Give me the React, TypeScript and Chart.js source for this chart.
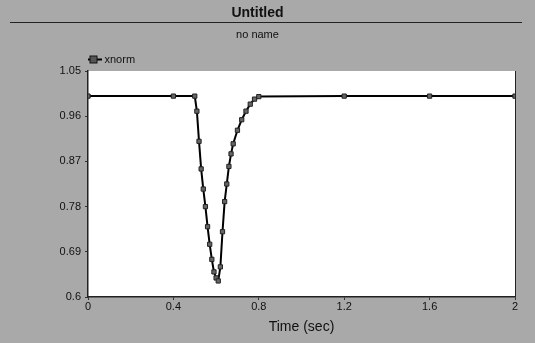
import React, { useEffect, useRef } from "react";
import { Chart, registerables } from "chart.js";

Chart.register(...registerables);

const titleText = "Untitled";
const subtitleText = "no name";
const seriesLabel = "xnorm";
const xAxisTitle = "Time (sec)";

const times = [0, 0.4, 0.5, 0.51, 0.52, 0.53, 0.54, 0.55, 0.56, 0.57, 0.58, 0.59, 0.6, 0.61, 0.62, 0.63, 0.64, 0.65, 0.66, 0.67, 0.68, 0.7, 0.72, 0.74, 0.76, 0.78, 0.8, 1.2, 1.6, 2.0];
const xnorm = [1.0, 1.0, 1.0, 0.97, 0.91, 0.855, 0.815, 0.78, 0.74, 0.705, 0.675, 0.65, 0.638, 0.632, 0.66, 0.73, 0.79, 0.825, 0.86, 0.885, 0.905, 0.932, 0.953, 0.97, 0.984, 0.994, 0.999, 1.0, 1.0, 1.0];

const xTicks = [0, 0.4, 0.8, 1.2, 1.6, 2];
const yTicks = [0.6, 0.69, 0.78, 0.87, 0.96, 1.05];

const BG = "#a9a9a9";
const FONT = "'Liberation Sans', Arial, sans-serif";

export default function App() {
  const ref = useRef<HTMLCanvasElement | null>(null);

  useEffect(() => {
    document.body.style.margin = "0";
    const canvas = ref.current;
    if (!canvas) return;

    const legendIcon = document.createElement("canvas");
    legendIcon.width = 16;
    legendIcon.height = 10;
    const ictx = legendIcon.getContext("2d")!;
    ictx.strokeStyle = "#000";
    ictx.lineWidth = 2;
    ictx.beginPath();
    ictx.moveTo(0, 5);
    ictx.lineTo(16, 5);
    ictx.stroke();
    ictx.fillStyle = "#555";
    ictx.fillRect(4, 1, 8, 8);
    ictx.strokeStyle = "#111";
    ictx.lineWidth = 1;
    ictx.strokeRect(4.5, 1.5, 7, 7);

    let shifted = false;
    const framePlugin = {
      id: "frame",
      beforeDraw(chart: any) {
        const { ctx, chartArea, width, height } = chart;
        ctx.save();
        ctx.fillStyle = BG;
        ctx.fillRect(0, 0, width, height);
        ctx.fillStyle = "#ffffff";
        ctx.fillRect(chartArea.left, chartArea.top, chartArea.right - chartArea.left, chartArea.bottom - chartArea.top);
        ctx.strokeStyle = "#222";
        ctx.lineWidth = 1;
        ctx.beginPath();
        ctx.moveTo(10, 22.5);
        ctx.lineTo(522, 22.5);
        ctx.stroke();
        ctx.beginPath();
        ctx.moveTo(chartArea.right + 0.5, chartArea.top);
        ctx.lineTo(chartArea.right + 0.5, chartArea.bottom);
        ctx.stroke();
        ctx.restore();
        if (chart.legend && !shifted) {
          shifted = true;
          const w = chart.legend.right - chart.legend.left;
          chart.legend.left = chartArea.left;
          chart.legend.right = chart.legend.left + w;
          chart.legend.top += 4;
          chart.legend.bottom += 4;
        }
      },
    };

    const chart = new Chart(canvas, {
      type: "line",
      data: {
        datasets: [
          {
            label: seriesLabel,
            data: times.map((t, i) => ({ x: t, y: xnorm[i] })),
            borderColor: "#000",
            borderWidth: 2,
            pointStyle: "rect",
            pointRadius: 3,
            pointBackgroundColor: "#666",
            pointBorderColor: "#222",
            pointBorderWidth: 1,
            tension: 0,
            fill: false,
          },
        ],
      },
      options: {
        animation: false,
        responsive: false,
        maintainAspectRatio: false,
        layout: { padding: { left: 0, right: 20, top: 0, bottom: 0 } },
        plugins: {
          title: {
            display: true,
            text: titleText,
            color: "#111",
            font: { family: FONT, size: 14, weight: "bold" },
            padding: { top: 5, bottom: 4 },
          },
          subtitle: {
            display: true,
            text: subtitleText,
            color: "#111",
            font: { family: FONT, size: 11 },
            padding: { top: 3, bottom: 8 },
          },
          legend: {
            display: true,
            position: "top",
            align: "start",
            labels: {
              usePointStyle: true,
              pointStyle: legendIcon as any,
              padding: 0,
              color: "#111",
              font: { family: FONT, size: 11 },
            },
          },
          tooltip: { enabled: false },
        },
        scales: {
          x: {
            type: "linear",
            min: 0,
            max: 2,
            afterBuildTicks: (axis: any) => {
              axis.ticks = xTicks.map((v) => ({ value: v }));
            },
            afterFit: (axis: any) => {
              axis.height = 46;
            },
            ticks: {
              color: "#111",
              font: { family: FONT, size: 11 },
              padding: 0,
              maxRotation: 0,
              callback: (v: any) => String(Math.round(Number(v) * 10) / 10),
            },
            grid: { display: true, drawOnChartArea: false, tickLength: 3, color: "#333" },
            border: { display: true, color: "#222", width: 1.5 },
            title: {
              display: true,
              text: xAxisTitle,
              color: "#111",
              font: { family: FONT, size: 14 },
              padding: { top: 2, bottom: 7 },
            },
          },
          y: {
            type: "linear",
            min: 0.6,
            max: 1.05,
            afterBuildTicks: (axis: any) => {
              axis.ticks = yTicks.map((v) => ({ value: v }));
            },
            afterFit: (axis: any) => {
              axis.width = 88;
            },
            ticks: {
              color: "#111",
              font: { family: FONT, size: 11 },
              padding: 4,
              callback: (v: any) => String(Math.round(Number(v) * 100) / 100),
            },
            grid: { display: true, drawOnChartArea: false, tickLength: 3, color: "#333" },
            border: { display: true, color: "#222", width: 1.5 },
          },
        },
      },
      plugins: [framePlugin],
    });

    return () => chart.destroy();
  }, []);

  return (
    <div style={{ position: "fixed", left: 0, top: 0, width: 535, height: 343, background: BG }}>
      <canvas ref={ref} width={535} height={343} style={{ display: "block", width: 535, height: 343 }} />
    </div>
  );
}
